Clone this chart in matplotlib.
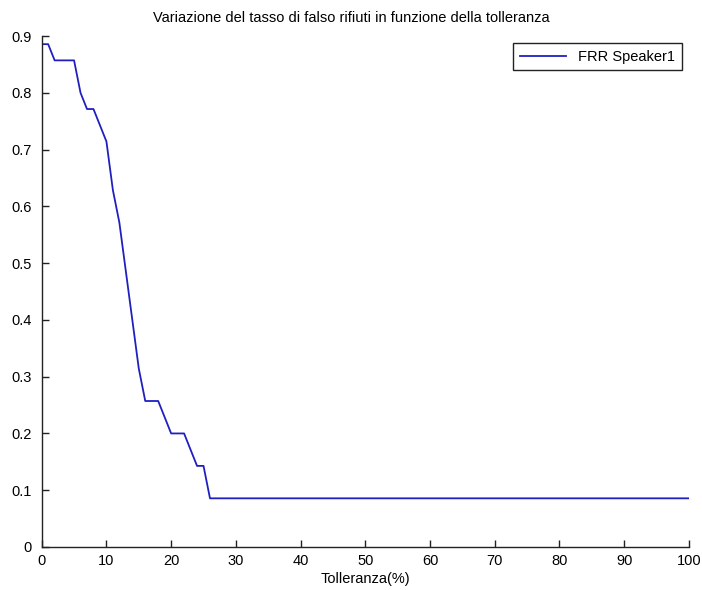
import matplotlib
matplotlib.use("Agg")
import matplotlib.pyplot as plt
import numpy as np

# False rejection rate for speaker 1, sampled at each tolerance step (counts out of 35)
tolleranza = np.arange(0, 101)
rejected = [31, 31, 30, 30, 30, 30, 28, 27, 27, 26,
            25, 22, 20, 17, 14, 11, 9, 9, 9, 8,
            7, 7, 7, 6, 5, 5] + [3] * 75
n_trials = 35
frr = np.array(rejected) / n_trials

plt.rcParams['font.family'] = ['Liberation Sans', 'DejaVu Sans']

fig = plt.figure(figsize=(7.02, 5.90), dpi=100)
ax = fig.add_axes([0.0594, 0.0729, 0.922, 0.866])

ax.plot(tolleranza, frr, color='#2020c0', linewidth=1.3, label='FRR Speaker1')

ax.set_xlim(0, 100)
ax.set_ylim(0, 0.9)
ax.set_xticks(np.arange(0, 101, 10))
ax.set_yticks(np.arange(0, 0.91, 0.1))
ax.set_yticklabels(['0', '0.1', '0.2', '0.3', '0.4', '0.5', '0.6', '0.7', '0.8', '0.9'])

ax.spines['top'].set_visible(False)
ax.spines['right'].set_visible(False)
for s in ('left', 'bottom'):
    ax.spines[s].set_linewidth(1.0)
    ax.spines[s].set_color('#222222')
ax.tick_params(direction='in', length=5, width=1.0, labelsize=10.5, color='#222222')
ax.tick_params(axis='y', pad=7)
ax.tick_params(axis='x', pad=5)

fig.text(0.5, 0.969, 'Variazione del tasso di falso rifiuti in funzione della tolleranza',
         fontsize=10.5, ha='center', va='center')
ax.set_xlabel('Tolleranza(%)', fontsize=10.5, labelpad=3)

leg = ax.legend(loc='upper right', fontsize=10.5,
                fancybox=False, framealpha=1, edgecolor='#222222',
                handlelength=3.2, borderpad=0.45)
leg.get_frame().set_linewidth(1.0)

fig.savefig('out.png', dpi=100)
